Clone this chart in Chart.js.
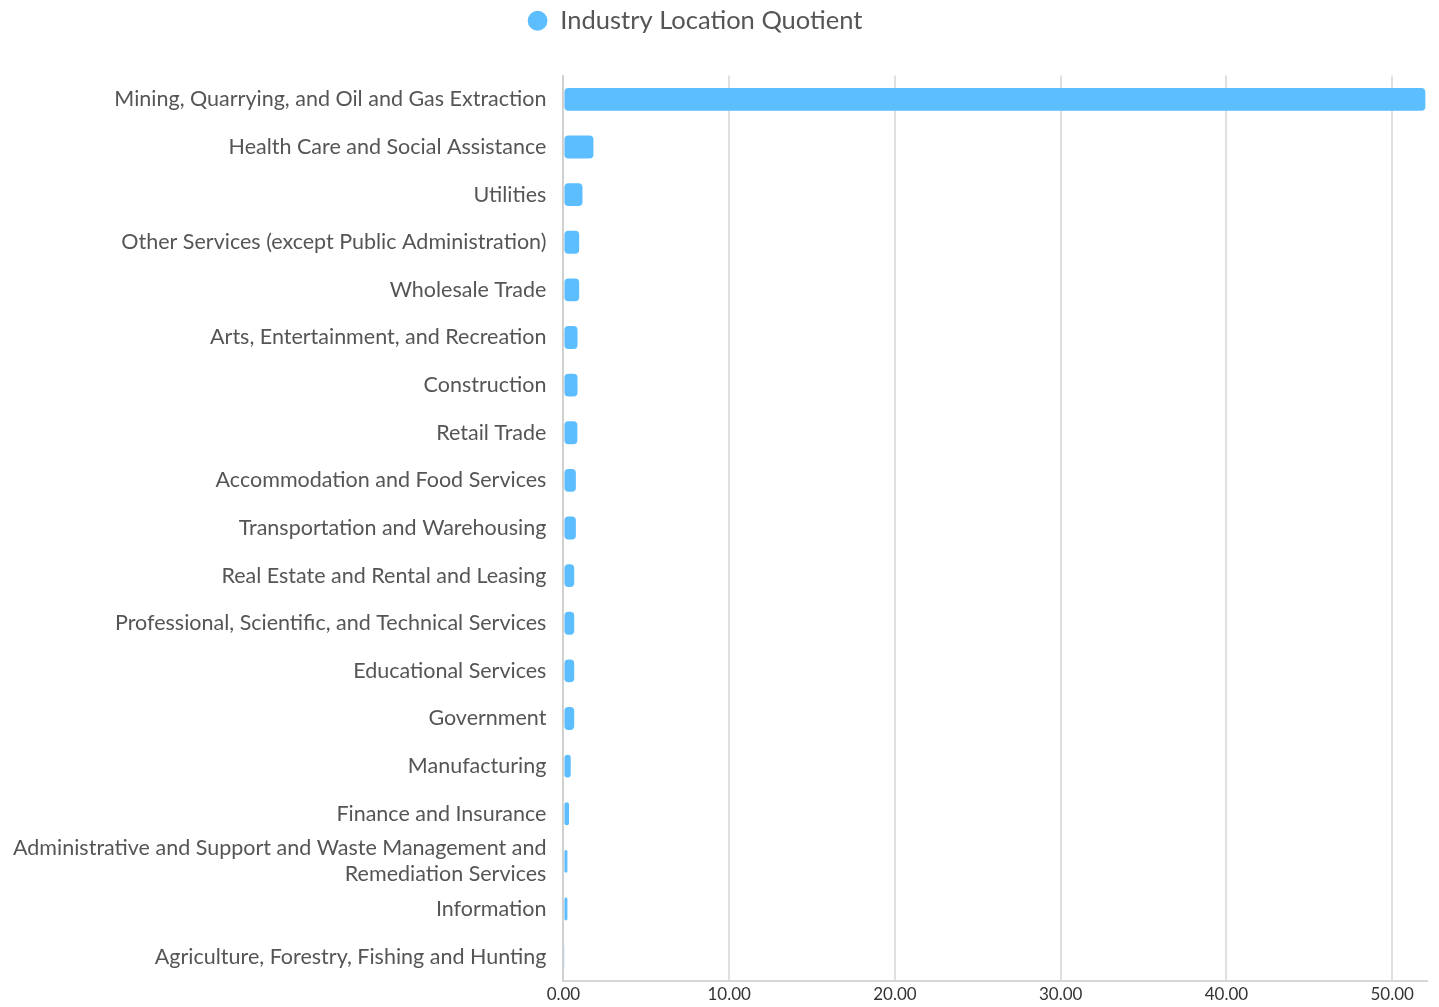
<!DOCTYPE html>
<html>
<head>
<meta charset="utf-8">
<script src="https://cdn.jsdelivr.net/npm/chart.js@4/dist/chart.umd.min.js"></script>
<style>
  html, body { margin: 0; padding: 0; background: #fff; }
  #wrap { width: 1439px; height: 1007px; }
</style>
</head>
<body>
<div id="wrap"><canvas id="myChart"></canvas></div>
<script>
var industries = [
  "Mining, Quarrying, and Oil and Gas Extraction",
  "Health Care and Social Assistance",
  "Utilities",
  "Other Services (except Public Administration)",
  "Wholesale Trade",
  "Arts, Entertainment, and Recreation",
  "Construction",
  "Retail Trade",
  "Accommodation and Food Services",
  "Transportation and Warehousing",
  "Real Estate and Rental and Leasing",
  "Professional, Scientific, and Technical Services",
  "Educational Services",
  "Government",
  "Manufacturing",
  "Finance and Insurance",
  ["Administrative and Support and Waste Management and", "Remediation Services"],
  "Information",
  "Agriculture, Forestry, Fishing and Hunting"
];
var quotients = [52.0, 1.81, 1.15, 0.95, 0.95, 0.85, 0.85, 0.84, 0.75, 0.75, 0.65, 0.65, 0.65, 0.65, 0.44, 0.34, 0.24, 0.24, 0.05];
var xTicks = [0, 10, 20, 30, 40, 50];
var axisMax = 52.1;

Chart.defaults.font.family = "Lato, 'Open Sans', sans-serif";

// extra space under the legend, and nudge it a bit left like the original
var legendTweak = {
  id: 'legendTweak',
  beforeInit: function (chart) {
    var fit = chart.legend.fit;
    chart.legend.fit = function () {
      fit.bind(chart.legend)();
      this.height += 32;
    };
  },
  beforeDraw: function (chart) {
    if (!chart.legend._shifted) {
      chart.legend.right -= 33;
      chart.legend._shifted = true;
    }
  },
  afterLayout: function (chart) {
    chart.legend._shifted = false;
  }
};

var ctx = document.getElementById("myChart");
var myBarChart = new Chart(ctx, {
  type: 'bar',
  data: {
    labels: industries,
    datasets: [{
      label: "Industry Location Quotient",
      data: quotients,
      backgroundColor: "#5cbdff",
      borderRadius: 4,
      borderSkipped: false,
      barPercentage: 0.6,
      categoryPercentage: 0.8
    }]
  },
  plugins: [legendTweak],
  options: {
    indexAxis: 'y',
    responsive: true,
    maintainAspectRatio: false,
    animation: false,
    layout: { padding: { left: -4, right: 12, top: 0, bottom: -4 } },
    plugins: {
      legend: {
        labels: {
          usePointStyle: true,
          pointStyle: 'circle',
          boxWidth: 20,
          boxHeight: 14,
          padding: 8,
          color: '#555',
          font: { size: 25.5 }
        }
      },
      tooltip: { enabled: false }
    },
    scales: {
      x: {
        min: 0,
        max: axisMax,
        afterBuildTicks: function (axis) {
          axis.ticks = xTicks.map(function (v) { return { value: v }; });
        },
        ticks: {
          color: '#333',
          font: { size: 17 },
          padding: 4,
          callback: function (v) { return Number(v).toFixed(2); }
        },
        grid: { color: '#e0e0e0', lineWidth: 2, drawTicks: false },
        border: { color: '#d6d6d6', width: 2 }
      },
      y: {
        afterFit: function (axis) {
          axis.paddingBottom = 26.5;
        },
        ticks: { color: '#555', font: { size: 21.5 }, padding: 17, autoSkip: false },
        grid: { display: false, drawTicks: false },
        border: { color: '#d0d0d0', width: 2 }
      }
    }
  }
});
</script>
</body>
</html>
